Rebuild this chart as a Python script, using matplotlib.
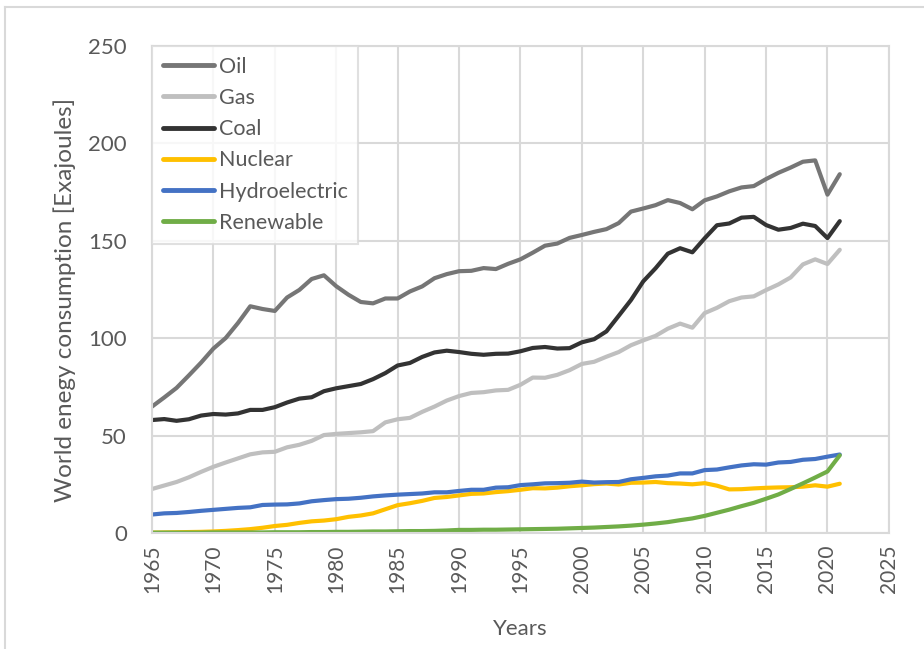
import matplotlib
matplotlib.use("Agg")
import matplotlib.pyplot as plt
from matplotlib.lines import Line2D

years = list(range(1965, 2022))

oil = [64.9, 69.6, 74.5, 80.9, 87.5, 94.7, 100.1, 107.8, 116.4, 115.0,
       114.0, 120.9, 124.8, 130.4, 132.3, 126.7, 122.3, 118.6, 117.9, 120.4,
       120.4, 124.0, 126.6, 130.8, 132.9, 134.4, 134.6, 136.0, 135.5, 138.2,
       140.5, 143.9, 147.5, 148.6, 151.5, 153.0, 154.6, 156.0, 159.1, 165.0,
       166.6, 168.3, 170.9, 169.4, 166.2, 170.8, 172.8, 175.4, 177.4, 178.1,
       181.7, 184.9, 187.6, 190.6, 191.3, 173.7, 184.2]

gas = [22.6, 24.4, 26.2, 28.6, 31.4, 34.0, 36.2, 38.3, 40.4, 41.4,
       41.7, 44.0, 45.3, 47.3, 50.3, 50.9, 51.3, 51.7, 52.3, 56.8,
       58.4, 59.1, 62.2, 64.9, 68.0, 70.3, 71.9, 72.3, 73.2, 73.5,
       76.1, 79.8, 79.7, 81.2, 83.6, 86.8, 87.9, 90.5, 92.9, 96.4,
       98.9, 101.2, 104.9, 107.5, 105.4, 112.9, 115.6, 119.0, 120.9, 121.5,
       124.7, 127.6, 131.2, 137.9, 140.5, 138.1, 145.4]

coal = [58.0, 58.5, 57.6, 58.4, 60.3, 61.1, 60.8, 61.4, 63.2, 63.2,
        64.6, 67.0, 69.0, 69.7, 72.8, 74.3, 75.4, 76.5, 79.0, 82.1,
        86.0, 87.3, 90.4, 92.7, 93.6, 92.9, 92.0, 91.5, 92.0, 92.1,
        93.3, 95.0, 95.5, 94.7, 94.9, 97.9, 99.5, 103.5, 111.5, 119.6,
        129.2, 135.9, 143.4, 146.2, 144.1, 151.3, 158.0, 158.9, 161.9, 162.3,
        158.1, 155.7, 156.6, 158.8, 157.6, 151.4, 160.1]

nuclear = [0.2, 0.3, 0.4, 0.5, 0.6, 0.8, 1.1, 1.5, 2.0, 2.7,
           3.6, 4.2, 5.2, 6.0, 6.4, 7.1, 8.3, 9.0, 10.1, 12.2,
           14.3, 15.3, 16.5, 18.0, 18.5, 19.3, 20.1, 20.3, 21.0, 21.5,
           22.2, 23.0, 22.9, 23.3, 24.0, 24.5, 25.1, 25.4, 24.9, 25.8,
           25.9, 26.2, 25.6, 25.4, 25.0, 25.6, 24.3, 22.4, 22.5, 22.9,
           23.2, 23.4, 23.5, 23.8, 24.5, 23.8, 25.3]

hydro = [9.5, 10.1, 10.3, 10.8, 11.4, 11.9, 12.4, 12.9, 13.2, 14.4,
         14.6, 14.7, 15.2, 16.3, 16.9, 17.4, 17.6, 18.1, 18.8, 19.3,
         19.7, 20.0, 20.3, 20.9, 20.9, 21.6, 22.2, 22.2, 23.3, 23.5,
         24.6, 25.0, 25.5, 25.6, 25.8, 26.4, 25.9, 26.1, 26.2, 27.6,
         28.3, 29.1, 29.5, 30.6, 30.6, 32.3, 32.6, 33.7, 34.7, 35.3,
         35.1, 36.2, 36.5, 37.6, 38.0, 39.2, 40.3]

renewable = [0.2, 0.2, 0.2, 0.2, 0.2, 0.3, 0.3, 0.3, 0.3, 0.3,
             0.4, 0.4, 0.4, 0.5, 0.5, 0.6, 0.6, 0.7, 0.8, 0.8,
             0.9, 1.0, 1.0, 1.1, 1.3, 1.6, 1.6, 1.7, 1.7, 1.8,
             1.9, 2.0, 2.1, 2.2, 2.4, 2.6, 2.8, 3.1, 3.4, 3.8,
             4.3, 4.9, 5.6, 6.6, 7.5, 8.8, 10.4, 12.0, 13.8, 15.5,
             17.6, 19.8, 22.6, 25.5, 28.5, 31.6, 39.9]

series = [("Oil", oil, "#767676"),
          ("Gas", gas, "#BFBFBF"),
          ("Coal", coal, "#333333"),
          ("Nuclear", nuclear, "#FFC000"),
          ("Hydroelectric", hydro, "#4472C4"),
          ("Renewable", renewable, "#70AD47")]

x_ticks = list(range(1965, 2026, 5))
y_ticks = [0, 50, 100, 150, 200, 250]

plt.rcParams['font.family'] = ['Lato', 'DejaVu Sans']
txt = "#595959"
grid = "#D9D9D9"

fig = plt.figure(figsize=(9.24, 6.49), dpi=100)
# chart-area border (top and left edges visible in the cropped reference)
fig.add_artist(Line2D([5 / 924, 5 / 924], [0, 1 - 7 / 649], transform=fig.transFigure,
                      color="#D9D9D9", linewidth=1.5))
fig.add_artist(Line2D([5 / 924, 1], [1 - 7 / 649, 1 - 7 / 649], transform=fig.transFigure,
                      color="#D9D9D9", linewidth=1.5))

ax = fig.add_axes([0.1645, 0.1787, 0.7975, 0.7504])

for name, vals, col in series:
    ax.plot(years, vals, color=col, linewidth=3.0, label=name, solid_capstyle='round')

ax.set_xlim(1965, 2025)
ax.set_ylim(0, 250)
ax.set_xticks(x_ticks)
ax.set_yticks(y_ticks)
ax.set_xticklabels([str(v) for v in x_ticks], rotation=90, fontsize=15, color=txt)
ax.set_yticklabels([str(v) for v in y_ticks], fontsize=16, color=txt)
ax.tick_params(axis='x', length=0, pad=8)
ax.tick_params(axis='y', length=0, pad=18)
ax.grid(True, color=grid, linewidth=1.5)
ax.set_axisbelow(True)
for s in ax.spines.values():
    s.set_color(grid)
    s.set_linewidth(1.5)

ax.set_xlabel("Years", fontsize=16, color=txt, labelpad=19)
ax.set_ylabel("World enegy consumption [Exajoules]", fontsize=17.5, color=txt)
ax.yaxis.set_label_coords(-0.103, 0.478)

leg = ax.legend(loc="upper left", bbox_to_anchor=(0, 1), borderaxespad=0,
                fontsize=15.5, frameon=True, fancybox=False, handlelength=2.4,
                handletextpad=0.2, labelspacing=0.52, borderpad=0.5)
leg.get_frame().set_edgecolor(grid)
leg.get_frame().set_linewidth(1.5)
for t in leg.get_texts():
    t.set_color(txt)
for h in leg.legend_handles:
    h.set_linewidth(3.5)

fig.savefig("out.png", dpi=100)
